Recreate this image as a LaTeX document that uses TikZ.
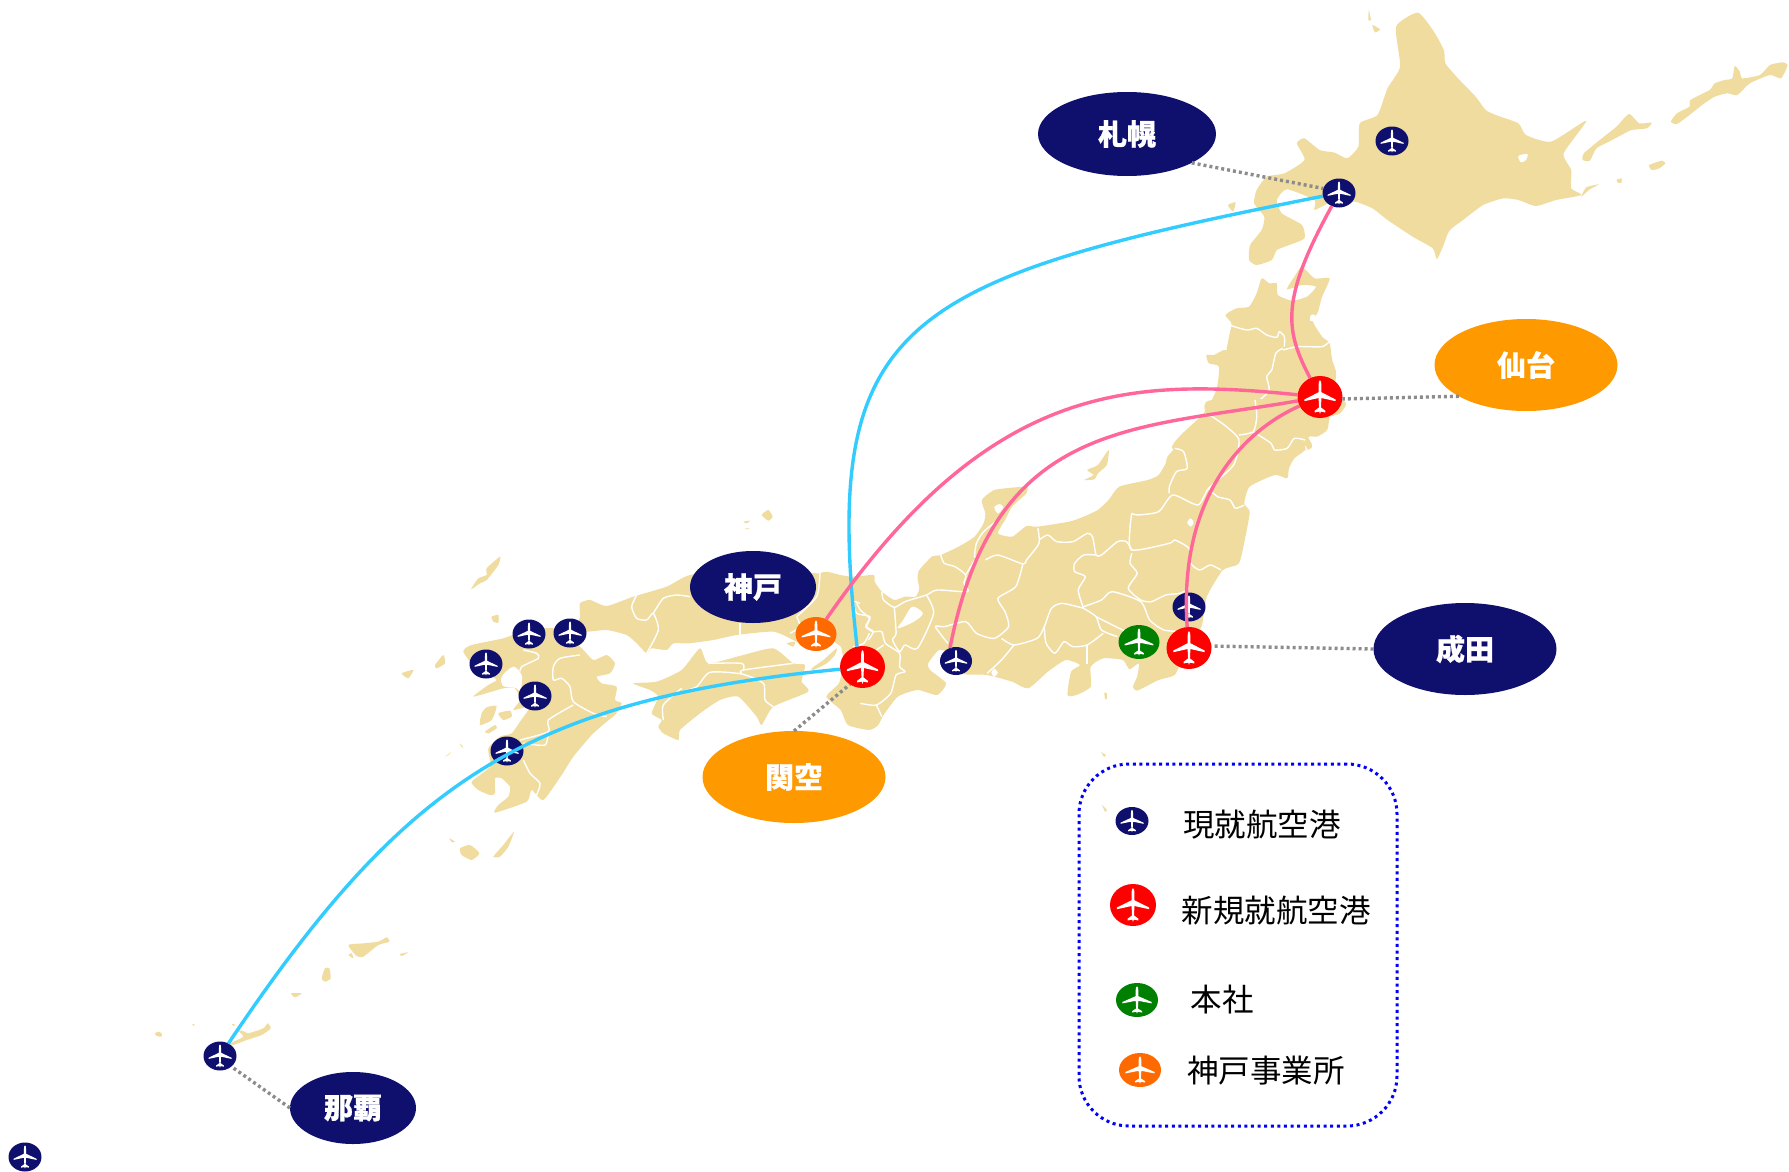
\documentclass[tikz,border=0pt]{standalone}
\usepackage{fontspec}
\usetikzlibrary{shapes.geometric}
\newfontfamily\jp{Noto Sans CJK JP}
\newfontfamily\jpb[BoldFeatures={FakeBold=0.6}]{Noto Sans CJK JP}
\definecolor{navyc}{HTML}{0F0F6E}
\definecolor{ambc}{HTML}{FF9900}
\definecolor{orgc}{HTML}{FF6A00}
\definecolor{grnc}{HTML}{008000}
\definecolor{redc}{HTML}{FF0000}
\definecolor{landc}{HTML}{F0DC9F}
\definecolor{pinkc}{HTML}{FF6699}
\definecolor{cyanc}{HTML}{33CCFF}
\definecolor{dotc}{HTML}{8C8C8C}
\newcommand\planepath{(0,-1) .. controls (.06,-1) and (.09,-.85) .. (.09,-.7) -- (.09,-.28) -- (1,.15) -- (1,.25) -- (.09,.06) -- (.06,.62) -- (.34,.82) -- (.34,.92) -- (.05,.87) -- (0,1) -- (-.05,.87) -- (-.34,.92) -- (-.34,.82) -- (-.06,.62) -- (-.09,.06) -- (-1,.25) -- (-1,.15) -- (-.09,-.28) -- (-.09,-.7) .. controls (-.09,-.85) and (-.06,-1) .. (0,-1) -- cycle}
\newcommand\landshape[1]{\fill[landc] plot[smooth cycle,tension=.35] coordinates {#1};}
\newcommand\holeshape[1]{\fill[white] plot[smooth cycle,tension=.5] coordinates {#1};}
\newcommand\pref[1]{\draw[prefline] plot[smooth,tension=.4] coordinates {#1};}
\tikzset{
  cropA/.style={x=0.50327pt,y=-0.33333pt,shift={(1000pt,0pt)}},
  cropB/.style={x=0.35714pt,y=-0.33333pt,shift={(780pt,-400pt)}},
  cropC/.style={x=0.33333pt,y=-0.33333pt,shift={(380pt,-500pt)}},
  cropE/.style={x=0.33333pt,y=-0.33333pt,shift={(0pt,-900pt)}},
  prefline/.style={white,line width=1.4pt,line join=round},
  apt/.style n args={3}{ellipse,fill=#1,draw=none,inner sep=0pt,outer sep=0pt,
    minimum width=#2pt,minimum height=#3pt},
  small/.style={apt={navyc}{33}{29}},
  big/.style={apt={redc}{45}{42}},
  homeapt/.style={apt={grnc}{41}{34}},
  kobeapt/.style={apt={orgc}{41}{34}},
  city/.style n args={3}{ellipse,fill=#1,inner sep=0pt,outer sep=0pt,minimum width=#2pt,minimum height=#3pt,
    text=white,font=\jpb\bfseries\fontsize{29}{32}\selectfont},
  lab/.style={font=\jp\fontsize{31.5}{36}\selectfont,text=black,inner sep=0pt},
  cyanl/.style={cyanc,line width=3.4pt},
  pinkl/.style={pinkc,line width=3.4pt},
  dotl/.style={dotc,line width=3.4pt,dash pattern=on 3pt off 3pt},
}
\begin{document}
\begin{tikzpicture}[x=1pt,y=-1pt]
\useasboundingbox (0,0) rectangle (1789,1172);
\fill[white] (0,0) rectangle (1789,1172);

% ---------- land: north
\begin{scope}[cropA]
\landshape{(787,80) (830,38) (860,90) (882,150) (885,190) (910,235) (945,290) (965,330) (985,345) (1030,370) (1045,405) (1095,425) (1165,362) (1120,460) (1135,510) (1135,565) (1155,585) (1105,600) (1065,618) (1030,600) (1000,595) (960,615) (920,660) (893,692) (880,740) (868,778) (860,745) (820,710) (770,660) (740,625) (705,605) (660,605) (625,630) (625,600) (570,568) (550,600) (560,640) (600,675) (605,715) (575,735) (550,750) (540,780) (510,795) (495,780) (497,735) (520,690) (525,650) (505,610) (510,570) (530,530) (565,520) (605,480) (590,430) (605,415) (635,450) (665,458) (690,475) (712,440) (715,370) (750,345) (770,265) (795,200)}
\holeshape{(1030,468) (1048,462) (1045,480) (1035,487)}
\landshape{(1158,480) (1160,460) (1200,410) (1225,380) (1250,342) (1270,370) (1295,368) (1285,385) (1255,390) (1235,405) (1210,425) (1185,445) (1172,482)}
\landshape{(1333,365) (1345,340) (1370,320) (1372,300) (1410,270) (1420,250) (1440,240) (1455,235) (1460,198) (1470,215) (1475,235) (1510,225) (1530,195) (1555,187) (1565,195) (1552,235) (1530,225) (1490,250) (1465,285) (1445,280) (1420,290) (1395,315) (1370,345) (1345,372)}
\landshape{(1290,495) (1315,482) (1322,490) (1310,505) (1295,510)}
\landshape{(1155,590) (1165,562) (1190,553) (1172,568)}
\landshape{(1225,540) (1235,535) (1235,548) (1228,548)}
\landshape{(733,30) (737,60) (732,60)}
\landshape{(740,75) (755,88) (745,97)}
\landshape{(453,615) (468,607) (463,635)}
% Tohoku
\landshape{(345,1350) (405,1240) (430,1170) (435,1100) (415,1090) (410,1065) (425,1065) (445,1050) (458,1060) (445,1095) (455,1010) (460,970) (448,945) (470,925) (495,920) (510,880) (520,835) (535,850) (550,850) (552,885) (580,902) (610,890) (628,860) (600,855) (570,868) (585,830) (600,800) (625,835) (655,835) (640,890) (632,935) (622,965) (640,1010) (655,1030) (660,1080) (668,1125) (655,1250) (650,1290) (630,1310) (612,1310) (608,1350)}
\holeshape{(618,945) (626,945) (626,962) (616,962)}
\pref{(455,975) (490,990) (510,985) (530,1005) (550,1012) (555,995) (565,1010) (565,1040)}
\pref{(562,1050) (590,1040) (610,1040) (640,1040) (655,1025)}
\pref{(562,1045) (548,1060) (540,1110) (530,1130) (535,1170) (520,1195) (505,1215) (510,1255) (505,1290) (480,1300)}
\pref{(400,1240) (430,1265) (470,1290) (480,1320) (470,1350)}
\pref{(480,1300) (505,1295) (530,1320) (550,1350)}
\pref{(590,1310) (600,1325) (610,1350)}
\end{scope}

% ---------- land: centre
\begin{scope}[cropB]
\landshape{(1210,0) (1190,40) (1165,80) (1130,115) (1085,170) (1080,190) (1060,225) (1030,240) (950,260) (920,300) (890,330) (850,350) (810,365) (720,380) (690,378) (650,410) (610,400) (630,360) (650,320) (690,280) (692,260) (660,262) (600,270) (565,300) (575,340) (570,370) (545,410) (500,440) (450,465) (425,470) (390,510) (385,535) (390,565) (380,590) (350,590) (320,600) (285,575) (265,545) (262,525) (200,530) (130,518) (115,520) (100,600) (100,690) (170,740) (175,800) (165,850) (130,890) (170,930) (190,975) (250,990) (275,975) (290,945) (330,890) (385,870) (440,885) (465,850) (420,810) (415,790) (445,750) (480,760) (530,790) (515,822) (580,825) (650,845) (695,865) (750,815) (800,780) (840,795) (815,815) (805,885) (830,885) (870,860) (870,800) (905,775) (960,780) (978,808) (1005,790) (1000,830) (988,860) (1000,872) (1060,840) (1105,825) (1130,770) (1180,680) (1195,590) (1240,510) (1285,490) (1305,400) (1315,335) (1300,310) (1315,260) (1385,225) (1420,235) (1425,205) (1440,175) (1470,150) (1470,120) (1510,90) (1525,55) (1568,40) (1568,0)}
\landshape{(852,240) (878,225) (860,210) (890,195) (920,150) (915,195) (890,220) (880,238)}
\landshape{(908,878) (915,880) (915,898) (910,895)}
\holeshape{(330,685) (345,660) (370,620) (400,640) (375,665)}
\holeshape{(592,818) (600,806) (610,818) (600,830)}
\holeshape{(1140,368) (1150,355) (1158,368) (1150,380)}
\holeshape{(600,322) (615,312) (625,322) (610,340)}
\pref{(610,360) (570,395) (550,430) (545,470) (558,478)}
\pref{(450,465) (460,490) (490,500) (520,525) (515,550) (525,575) (440,570) (410,585) (350,605) (320,622) (290,600) (285,575)}
\pref{(545,480) (520,525)}
\pref{(575,480) (610,465) (680,492) (690,480) (725,430) (722,385)}
\pref{(680,492) (660,560) (610,595) (630,635) (640,680) (600,715) (550,700) (520,665) (460,680) (435,680) (470,730)}
\pref{(725,420) (750,405) (775,425) (820,425) (860,400) (875,410) (885,465) (900,465) (945,425) (970,425) (985,450)}
\pref{(885,465) (850,465) (825,490) (825,515) (855,530) (835,570) (850,625)}
\pref{(985,340) (1000,345) (1060,335) (1100,285) (1170,315) (1200,265) (1270,195) (1285,120) (1250,80) (1210,50) (1190,40)}
\pref{(985,340) (980,385) (985,450) (1090,430) (1105,420) (1145,445) (1150,490) (1175,510) (1205,495) (1235,510)}
\pref{(985,460) (980,490) (1000,520) (975,565) (1010,600) (1040,605) (1080,585) (1120,580) (1145,565)}
\pref{(850,620) (900,600) (930,575) (1010,605) (1035,660) (1075,690) (1130,695)}
\pref{(850,625) (790,610) (760,625) (740,680) (720,715) (655,735) (620,715)}
\pref{(655,735) (620,780) (580,820)}
\pref{(850,625) (885,650) (900,690) (945,710)}
\pref{(885,650) (940,680) (980,700)}
\pref{(740,680) (745,730) (770,760) (795,725) (820,740) (860,735) (905,700)}
\pref{(860,735) (860,790)}
\pref{(1090,280) (1090,260) (1110,215) (1140,205) (1130,155) (1105,145)}
\pref{(1200,265) (1225,290) (1260,300) (1275,325) (1300,315)}
\pref{(1330,0) (1335,50) (1325,95) (1285,105)}
\pref{(1325,95) (1375,130) (1385,150) (1420,145) (1440,115) (1470,120)}
\pref{(320,622) (325,700) (315,720) (335,755) (350,735) (385,745) (430,640) (410,585)}
\pref{(215,610) (225,630) (250,655) (240,680) (260,695) (285,695) (295,730) (335,760) (335,800) (350,815) (325,825) (310,880) (270,915) (225,910)}
\pref{(250,700) (235,730) (205,740)}
\pref{(290,735) (270,750)}
\pref{(270,915) (285,950)}
\pref{(115,520) (105,575)}
\end{scope}

% ---------- land: west
\begin{scope}[cropC]
\landshape{(930,225) (860,260) (760,290) (680,318) (630,300) (600,310) (600,350) (590,385) (620,395) (680,390) (740,405) (770,430) (800,460) (815,445) (860,450) (880,430) (925,430) (1000,420) (1070,405) (1180,395) (1240,420) (1290,445) (1360,425) (1420,300) (1400,235) (1340,215) (1310,220) (1100,200)}
\landshape{(250,455) (275,435) (370,415) (440,390) (520,385) (600,440) (640,480) (680,465) (705,490) (690,520) (650,530) (665,550) (710,560) (705,600) (725,610) (705,645) (680,665) (635,705) (580,770) (545,825) (490,900) (455,870) (440,905) (345,938) (355,915) (385,890) (390,860) (365,835) (345,835) (345,880) (330,885) (295,870) (275,845) (330,800) (325,745) (360,710) (395,700) (420,665) (450,620) (400,630) (420,600) (405,565) (370,565) (280,590) (325,555) (350,540) (320,520) (290,510)}
\holeshape{(365,530) (400,500) (425,525) (425,560) (430,590) (410,565) (370,558)}
\landshape{(300,675) (305,640) (320,622) (350,618) (335,660)}
\landshape{(355,640) (390,632) (395,650) (370,660)}
\landshape{(315,695) (345,675) (350,685) (325,700)}
\landshape{(273,268) (295,235) (320,225) (320,205) (360,170) (355,195) (320,240) (300,250)}
\landshape{(335,350) (355,345) (355,368) (340,365)}
\landshape{(65,520) (100,510) (85,535)}
\landshape{(165,495) (190,465) (195,490) (170,505)}
\landshape{(195,770) (215,755) (205,765)}
\landshape{(240,730) (250,742) (244,740)}
\landshape{(240,1045) (270,1035) (298,1060) (275,1080) (245,1065)}
\landshape{(340,1070) (370,1035) (402,995) (385,1040) (360,1070)}
\landshape{(208,1015) (225,1025) (215,1026)}
\landshape{(1145,45) (1165,30) (1178,50) (1165,62)}
\landshape{(1090,65) (1110,62) (1100,70)}
\landshape{(1095,85) (1110,85) (1100,88)}
% Shikoku
\landshape{(760,550) (830,545) (905,510) (960,445) (985,490) (1090,465) (1180,445) (1240,490) (1275,495) (1265,545) (1285,575) (1180,620) (1145,675) (1130,650) (1075,590) (1020,600) (960,640) (900,690) (895,720) (850,700) (835,680) (845,660) (815,640) (835,590) (810,570)}
\landshape{(1295,505) (1330,480) (1370,445) (1365,465) (1340,490) (1300,510)}
\landshape{(1220,430) (1245,425) (1240,440)}
\pref{(905,575) (950,560) (990,517) (1085,522) (1150,550) (1155,600) (1180,620)}
\pref{(1085,520) (1090,510) (1240,490)}
\pref{(985,490) (1085,490) (1090,510)}
\pref{(905,565) (850,615) (850,660)}
% Chugoku / Kinki borders
\pref{(770,285) (755,320) (770,355) (800,360) (820,340) (835,390) (800,460)}
\pref{(820,340) (850,295) (890,285) (930,290)}
\pref{(1080,370) (1080,405)}
\pref{(1250,350) (1260,380) (1230,400)}
\pref{(1320,220) (1310,290) (1250,350)}
\pref{(1440,310) (1420,305) (1430,340) (1470,350) (1460,380) (1480,395) (1465,420)}
% Kyushu borders
\pref{(430,450) (470,460) (475,475) (425,500) (420,515)}
\pref{(600,465) (540,475) (520,500) (520,540) (545,535) (570,560) (580,605) (640,640) (680,650)}
\pref{(580,615) (505,660) (505,695) (420,720)}
\pref{(505,695) (495,735) (430,730)}
\pref{(430,780) (450,820) (480,850) (470,885)}
\end{scope}

% ---------- land: south
\begin{scope}[cropE]
\landshape{(690,430) (730,410) (712,390) (735,395) (745,400) (790,385) (803,370) (812,385) (785,405) (740,420) (700,435)}
\landshape{(465,400) (475,395) (485,400) (485,410) (470,408)}
\landshape{(873,280) (905,280) (885,292)}
\landshape{(965,235) (975,205) (988,205) (992,235) (975,245)}
\landshape{(1045,135) (1090,130) (1135,125) (1160,112) (1168,125) (1135,135) (1090,170) (1070,168)}
\landshape{(1045,165) (1055,160) (1060,175)}
\landshape{(1200,162) (1225,157) (1205,168)}
\landshape{(576,373) (584,373) (582,378)}
\landshape{(696,372) (706,374) (700,378)}
\end{scope}
\fill[landc] (1101,752) -- (1106,755) -- (1104,757) -- cycle;
\fill[landc] (1102,805) -- (1107,810) -- (1105,812) -- cycle;

% ---------- airports
\node[small] (sapporo) at (1339,193) {};
\node[small] (asahikawa) at (1392,141) {};
\node[big] (sendai) at (1320,397) {};
\node[small] (ibaraki) at (1189,607) {};
\node[big] (narita) at (1189,648) {};
\node[homeapt] (honsha) at (1139,642) {};
\node[apt={navyc}{32}{28}] (nagoya) at (956,661) {};
\node[big] (kansai) at (862.5,667) {};
\node[kobeapt] (kobe) at (816,634) {};
\node[small] (kyuA) at (529,634) {};
\node[small] (kyuB) at (570,633) {};
\node[small] (kyuC) at (486,664) {};
\node[small] (kyuD) at (535,696) {};
\node[small] (kyuE) at (507,751) {};
\node[small] (naha) at (220,1056) {};
\node[small] (ishigaki) at (25,1157) {};
\node[apt={navyc}{33}{28}] (lgA) at (1132,821) {};
\node[apt={redc}{46}{42}] (lgB) at (1133,905) {};
\node[apt={grnc}{42}{34}] (lgC) at (1137,1000) {};
\node[apt={orgc}{42}{34}] (lgD) at (1140,1070) {};
% aeroplane glyphs: node / half wingspan / half length
\foreach \n/\wa/\ha in {sapporo/11.5/11.6,asahikawa/11.5/11.6,sendai/15.7/16.8,ibaraki/11.5/11.6,narita/15.7/16.8,honsha/14.3/13.6,nagoya/11.2/11.2,kansai/15.7/16.8,kobe/14.3/13.6,kyuA/11.5/11.6,kyuB/11.5/11.6,kyuC/11.5/11.6,kyuD/11.5/11.6,kyuE/11.5/11.6,naha/11.5/11.6,ishigaki/11.5/11.6,lgA/11.5/11.2,lgB/16.1/16.8,lgC/14.7/13.6,lgD/14.7/13.6}
  {\fill[white,shift={(\n.center)},xscale=\wa,yscale=\ha] \planepath;}

% ---------- city labels
\node[city={navyc}{178}{84}] (sapporoL) at (1127,134) {札幌};
\node[city={ambc}{183}{92}] (sendaiL) at (1526,365) {仙台};
\node[city={navyc}{183}{92}] (naritaL) at (1465,649) {成田};
\node[city={navyc}{126}{72}] (kobeL) at (753,587) {神戸};
\node[city={ambc}{183}{92}] (kansaiL) at (794,777) {関空};
\node[city={navyc}{126}{72}] (nahaL) at (353,1108) {那覇};

% ---------- dotted leaders
\draw[dotl] (sapporoL.-24) -- (sapporo.164);
\draw[dotl] (sendaiL.205) -- (sendai.-5);
\draw[dotl] (naritaL.west) -- (narita.5);
\draw[dotl] (kansaiL.north) -- (kansai.234);
\draw[dotl] (nahaL.west) -- (naha.-43);

% ---------- routes
\draw[cyanl] (sapporo) .. controls (900,280) and (820,320) .. (kansai.105);
\draw[cyanl] (naha) .. controls (405,780) and (525,700) .. (kansai);
\draw[pinkl] (sapporo) .. controls (1280,300) and (1285,330) .. (sendai);
\draw[pinkl] (sendai) .. controls (1130,378) and (990,382) .. (kobe);
\draw[pinkl] (sendai) .. controls (1130,430) and (995,420) .. (nagoya.115);
\draw[pinkl] (sendai) .. controls (1245,430) and (1178,495) .. (narita.95);

% ---------- legend
\node[rectangle,draw=blue,line width=3pt,dash pattern=on 3pt off 3.6pt,rounded corners=50pt,
  minimum width=318pt,minimum height=362pt,inner sep=0pt] (legendbox) at (1238,945) {};
\node[lab] (ltA) at (1262,825) {現就航空港};
\node[lab] (ltB) at (1276,911) {新規就航空港};
\node[lab] (ltC) at (1222,1000) {本社};
\node[lab] (ltD) at (1266,1071) {神戸事業所};
\end{tikzpicture}
\end{document}
